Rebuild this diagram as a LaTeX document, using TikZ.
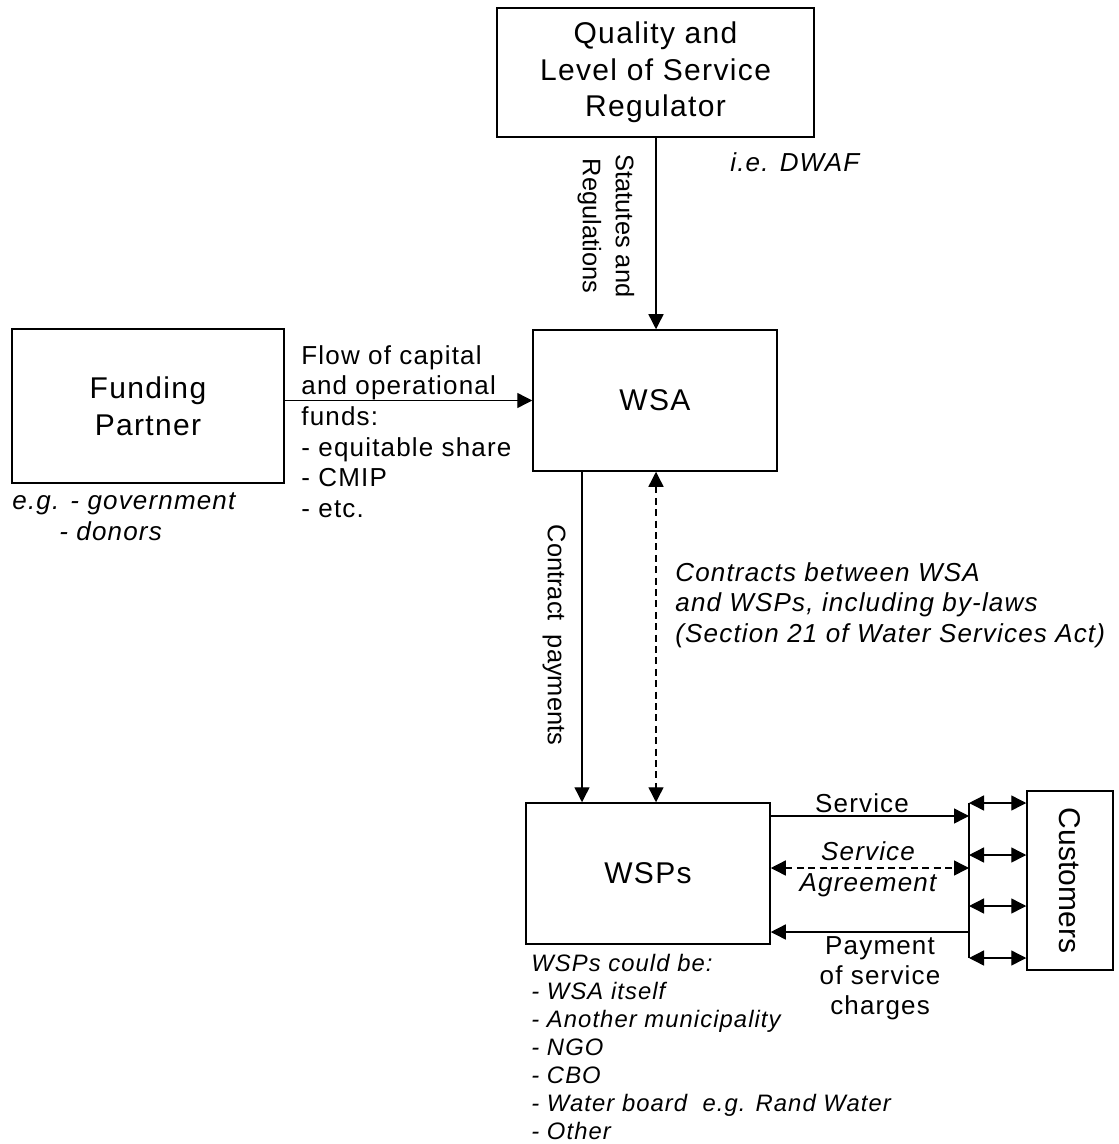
\documentclass[tikz,border=0pt]{standalone}
\usepackage{fontspec}
\setmainfont{Liberation Sans}[LetterSpace=4.5] % the labels run a bit wide
\newfontfamily\plainsf{Liberation Sans}        % turned labels, no tracking
\usetikzlibrary{arrows.meta,positioning}
\tikzset{>={Triangle[length=7.5pt,width=7.5pt]}}
\tikzset{
    box/.style={draw, line width=0.75pt, inner sep=3pt, align=center,
        font=\fontsize{15}{18.3}\selectfont},  % the framed boxes
    note/.style={inner sep=0pt, align=left,
        font=\fontsize{13}{15.3}\selectfont},  % free text
    inote/.style={note, font=\fontsize{13}{15.3}\selectfont\itshape},
    turned/.style={inner sep=0pt, align=center, rotate=-90,
        font=\plainsf\fontsize{12.7}{16.5}\selectfont},
    link/.style={line width=0.7pt},
    dashline/.style={link, dash pattern=on 3.5pt off 2.2pt},
}

\begin{document}
\begin{tikzpicture}[x=0.5pt, y=-0.5pt]
    \useasboundingbox (0,0) rectangle (1118,1144);
    \node[box, minimum width=158.5pt, minimum height=64.5pt] (reg) at (655.5,72.5)
        {Quality and\\Level of Service\\Regulator};
    \node[box, minimum width=122pt, minimum height=70.5pt] (wsa) at (655,400.5) {WSA};
    \node[box, minimum width=136pt, minimum height=77pt, font=\fontsize{15}{18.5}\selectfont]
        (fund) at (148,406) {Funding\\Partner};
    \node[box, minimum width=122pt, minimum height=70.5pt] (wsp) at (648,873.5) {WSPs};
    \node[box, minimum width=43pt, minimum height=89.5pt] (cust) at (1070,880.5)
        {\plainsf\rotatebox{-90}{Customers}};

    \coordinate (regx) at (656,0);
    \coordinate (payx) at (582,0);
    \coordinate (svc) at (969,816);
    \coordinate (agr) at (969,868);
    \coordinate (pay) at (969,932);
    \foreach \y [count=\i] in {803,855,906,958}
        \coordinate (bar\i) at (969,\y);

    \draw[link,->] (reg.south -| regx) -- (wsa.north -| regx);
    \draw[link,->] (fund.east |- wsa.west) -- (wsa.west);
    \draw[link,->] (wsa.south -| payx) -- (wsp.north -| payx);
    \draw[dashline,<->] (wsa.south -| regx) -- (wsp.north -| regx);
    \draw[link,->] (wsp.east |- svc) -- (svc);
    \draw[dashline,<->] (wsp.east |- agr) -- (agr);
    \draw[link,->] (pay) -- (wsp.east |- pay);
    \draw[link] (bar1) -- (bar4);
    \foreach \i in {1,...,4}
        \draw[link,<->] (bar\i) -- (cust.west |- bar\i);

    \node[turned] (statlbl) at (606,226) {Statutes and\\Regulations};
    \node[inote, anchor=west] (dwaf) at (730,162) {i.e. DWAF};
    \node[note, anchor=north west] (flowlbl) at (301,345)
        {Flow of capital\\and operational\\funds:\\- equitable share\\- CMIP\\- etc.};
    \node[inote, anchor=north west, font=\fontsize{13}{15.5}\selectfont\itshape] (funddesc) at (12,492)
        {e.g. - government\\\hspace*{23.5pt}- donors};
    \node[turned] (paylbl) at (554,635) {Contract~ payments};
    \node[inote, anchor=north west, font=\fontsize{13}{15.25}\selectfont\itshape] (contrlbl) at (675,562)
        {Contracts between WSA\\and WSPs, including by-laws\\(Section 21 of Water Services Act)};
    \node[note] (svclbl) at (862,803) {Service};
    \node[inote, align=center, font=\fontsize{13}{15.5}\selectfont\itshape] (agrlbl) at (868,869)
        {Service\\Agreement};
    \node[note, align=center, font=\fontsize{13}{15}\selectfont] (paylbl2) at (880,978)
        {Payment\\of service\\charges};
    \node[inote, anchor=north west, font=\fontsize{11.9}{14}\selectfont\itshape] (wspdesc) at (531,954)
        {WSPs could be:\\- WSA itself\\- Another municipality\\- NGO\\- CBO\\- Water board~ e.g. Rand Water\\- Other};
\end{tikzpicture}
\end{document}
